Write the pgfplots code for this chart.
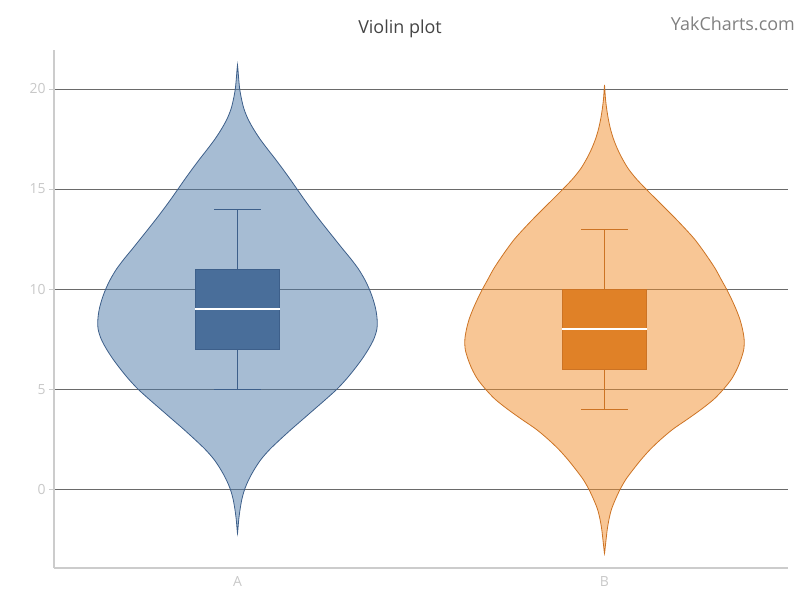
\documentclass[border=0pt]{standalone}
\usepackage{fontspec}
\setmainfont{Open Sans}
\usepackage{pgfplots}
\pgfplotsset{compat=1.18}
\usepackage{pgfplotstable}

\definecolor{blueF}{HTML}{4E79A7}
\definecolor{blueL}{HTML}{3D5F8A}
\definecolor{blueB}{HTML}{496E9A}
\definecolor{orangeF}{HTML}{F28E2B}
\definecolor{orangeL}{HTML}{CC7324}
\definecolor{orangeB}{HTML}{E08127}
\definecolor{gridc}{HTML}{6A6A6A}
\definecolor{axc}{HTML}{CCCCCC}
\definecolor{tickc}{HTML}{C8C8C8}
\definecolor{titlec}{HTML}{444444}
\definecolor{brandc}{HTML}{808080}

% violin A outline: side s (-1 left, +1 right), half width w (axis units), value y
\pgfplotstableread{
s w y
-1 0 21.2
-1 0.0011 21.0
-1 0.0033 20.5
-1 0.0060 20.0
-1 0.0109 19.5
-1 0.0177 19.0
-1 0.0286 18.5
-1 0.0436 18.0
-1 0.0613 17.5
-1 0.0817 17.0
-1 0.1030 16.5
-1 0.1234 16.0
-1 0.1431 15.5
-1 0.1621 15.0
-1 0.1812 14.5
-1 0.2011 14.0
-1 0.2218 13.5
-1 0.2433 13.0
-1 0.2651 12.5
-1 0.2869 12.0
-1 0.3093 11.5
-1 0.3297 11.0
-1 0.3460 10.5
-1 0.3591 10.0
-1 0.3692 9.5
-1 0.3766 9.0
-1 0.3804 8.5
-1 0.3798 8.0
-1 0.3714 7.5
-1 0.3569 7.0
-1 0.3392 6.5
-1 0.3188 6.0
-1 0.2965 5.5
-1 0.2711 5.0
-1 0.2411 4.5
-1 0.2098 4.0
-1 0.1785 3.5
-1 0.1471 3.0
-1 0.1172 2.5
-1 0.0886 2.0
-1 0.0646 1.5
-1 0.0463 1.0
-1 0.0313 0.5
-1 0.0196 0.0
-1 0.0120 -0.5
-1 0.0071 -1.0
-1 0.0035 -1.5
-1 0.0011 -2.0
1 0 -2.21
1 0.0011 -2.0
1 0.0035 -1.5
1 0.0071 -1.0
1 0.0120 -0.5
1 0.0196 0.0
1 0.0313 0.5
1 0.0463 1.0
1 0.0646 1.5
1 0.0886 2.0
1 0.1172 2.5
1 0.1471 3.0
1 0.1785 3.5
1 0.2098 4.0
1 0.2411 4.5
1 0.2711 5.0
1 0.2965 5.5
1 0.3188 6.0
1 0.3392 6.5
1 0.3569 7.0
1 0.3714 7.5
1 0.3798 8.0
1 0.3804 8.5
1 0.3766 9.0
1 0.3692 9.5
1 0.3591 10.0
1 0.3460 10.5
1 0.3297 11.0
1 0.3093 11.5
1 0.2869 12.0
1 0.2651 12.5
1 0.2433 13.0
1 0.2218 13.5
1 0.2011 14.0
1 0.1812 14.5
1 0.1621 15.0
1 0.1431 15.5
1 0.1234 16.0
1 0.1030 16.5
1 0.0817 17.0
1 0.0613 17.5
1 0.0436 18.0
1 0.0286 18.5
1 0.0177 19.0
1 0.0109 19.5
1 0.0060 20.0
1 0.0033 20.5
1 0.0011 21.0
1 0 21.2
}\violinA

% violin B outline
\pgfplotstableread{
s w y
-1 0 20.2
-1 0.0008 20.0
-1 0.0027 19.5
-1 0.0060 19.0
-1 0.0104 18.5
-1 0.0163 18.0
-1 0.0245 17.5
-1 0.0354 17.0
-1 0.0490 16.5
-1 0.0654 16.0
-1 0.0872 15.5
-1 0.1131 15.0
-1 0.1403 14.5
-1 0.1676 14.0
-1 0.1948 13.5
-1 0.2207 13.0
-1 0.2452 12.5
-1 0.2657 12.0
-1 0.2847 11.5
-1 0.3025 11.0
-1 0.3174 10.5
-1 0.3324 10.0
-1 0.3460 9.5
-1 0.3583 9.0
-1 0.3687 8.5
-1 0.3760 8.0
-1 0.3804 7.5
-1 0.3796 7.0
-1 0.3719 6.5
-1 0.3610 6.0
-1 0.3460 5.5
-1 0.3243 5.0
-1 0.2984 4.5
-1 0.2643 4.0
-1 0.2262 3.5
-1 0.1866 3.0
-1 0.1540 2.5
-1 0.1253 2.0
-1 0.1008 1.5
-1 0.0790 1.0
-1 0.0586 0.5
-1 0.0428 0.0
-1 0.0300 -0.5
-1 0.0191 -1.0
-1 0.0123 -1.5
-1 0.0076 -2.0
-1 0.0044 -2.5
-1 0.0014 -3.0
1 0 -3.21
1 0.0014 -3.0
1 0.0044 -2.5
1 0.0076 -2.0
1 0.0123 -1.5
1 0.0191 -1.0
1 0.0300 -0.5
1 0.0428 0.0
1 0.0586 0.5
1 0.0790 1.0
1 0.1008 1.5
1 0.1253 2.0
1 0.1540 2.5
1 0.1866 3.0
1 0.2262 3.5
1 0.2643 4.0
1 0.2984 4.5
1 0.3243 5.0
1 0.3460 5.5
1 0.3610 6.0
1 0.3719 6.5
1 0.3796 7.0
1 0.3804 7.5
1 0.3760 8.0
1 0.3687 8.5
1 0.3583 9.0
1 0.3460 9.5
1 0.3324 10.0
1 0.3174 10.5
1 0.3025 11.0
1 0.2847 11.5
1 0.2657 12.0
1 0.2452 12.5
1 0.2207 13.0
1 0.1948 13.5
1 0.1676 14.0
1 0.1403 14.5
1 0.1131 15.0
1 0.0872 15.5
1 0.0654 16.0
1 0.0490 16.5
1 0.0354 17.0
1 0.0245 17.5
1 0.0163 18.0
1 0.0104 18.5
1 0.0060 19.0
1 0.0027 19.5
1 0.0008 20.0
1 0 20.2
}\violinB

\begin{document}
\begin{tikzpicture}
\begin{axis}[
  at={(54bp,32bp)}, anchor=south west,
  width=734bp, height=518bp, scale only axis,
  xmin=-0.5, xmax=1.5, ymin=-3.94, ymax=21.95,
  xtick={0,1}, xticklabels={A,B},
  ytick={0,5,10,15,20},
  ymajorgrids, grid style={color=gridc, line width=0.9bp},
  axis x line*=bottom, axis y line*=left,
  axis line style={color=axc, line width=1.3bp},
  xtick style={draw=none},
  ytick style={color=axc, line width=1bp},
  tick align=outside, major tick length=5bp,
  tick label style={font=\fontsize{14}{16}\selectfont, text=tickc},
  /pgf/number format/assume math mode=true,
]
% violins
\addplot[draw=blueL, fill=blueF, fill opacity=0.5, line width=0.8bp, smooth] table[x expr=0+\thisrow{s}*\thisrow{w}, y=y]{\violinA} -- cycle;
\addplot[draw=orangeL, fill=orangeF, fill opacity=0.5, line width=0.8bp, smooth] table[x expr=1+\thisrow{s}*\thisrow{w}, y=y]{\violinB} -- cycle;
% box A
\addplot[draw=blueL, line width=1bp] coordinates {(0,5) (0,7)};
\addplot[draw=blueL, line width=1bp] coordinates {(0,11) (0,14)};
\addplot[draw=blueL, line width=1bp] coordinates {(-0.064,5) (0.064,5)};
\addplot[draw=blueL, line width=1bp] coordinates {(-0.064,14) (0.064,14)};
\addplot[draw=blueL, fill=blueB, line width=0.8bp] coordinates {(-0.1145,7) (0.1145,7) (0.1145,11) (-0.1145,11)} -- cycle;
\addplot[draw=white, line width=2bp] coordinates {(-0.1145,9) (0.1145,9)};
% box B
\addplot[draw=orangeL, line width=1bp] coordinates {(1,4) (1,6)};
\addplot[draw=orangeL, line width=1bp] coordinates {(1,10) (1,13)};
\addplot[draw=orangeL, line width=1bp] coordinates {(0.936,4) (1.064,4)};
\addplot[draw=orangeL, line width=1bp] coordinates {(0.936,13) (1.064,13)};
\addplot[draw=orangeL, fill=orangeB, line width=0.8bp] coordinates {(0.8855,6) (1.1145,6) (1.1145,10) (0.8855,10)} -- cycle;
\addplot[draw=white, line width=2bp] coordinates {(0.8855,8) (1.1145,8)};
\end{axis}
\node[font=\fontsize{18}{21}\selectfont, text=titlec] at (400bp,571bp) {Violin plot};
\node[font=\fontsize{18}{21}\selectfont, text=brandc, anchor=east, inner sep=0pt] at (795bp,576bp) {YakCharts.com};
\pgfresetboundingbox
\path[use as bounding box] (0,0) rectangle (800bp,600bp);
\end{tikzpicture}
\end{document}
